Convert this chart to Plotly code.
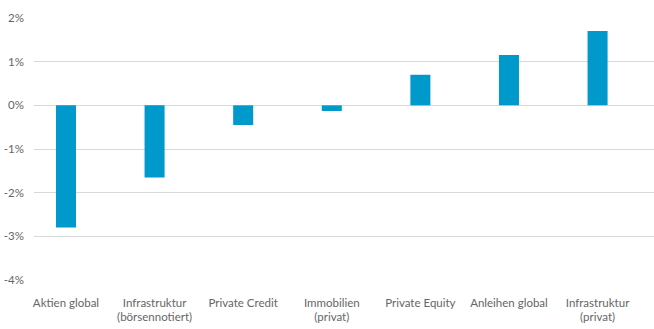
import plotly.graph_objects as go

categories = [
    "Aktien global",
    "Infrastruktur<br>(börsennotiert)",
    "Private Credit",
    "Immobilien<br>(privat)",
    "Private Equity",
    "Anleihen global",
    "Infrastruktur<br>(privat)",
]
values = [-2.8, -1.65, -0.45, -0.13, 0.7, 1.15, 1.7]
y_ticks = [-4, -3, -2, -1, 0, 1, 2]
y_tick_labels = [f"{v}%" for v in y_ticks]

fig = go.Figure(
    go.Bar(
        x=list(range(len(categories))),
        y=values,
        width=0.226,
        marker=dict(color="#0099CC", line=dict(width=0)),
        hoverinfo="skip",
    )
)

fig.update_layout(
    width=654,
    height=329,
    margin=dict(l=34, r=0, t=18, b=49),
    paper_bgcolor="white",
    plot_bgcolor="white",
    showlegend=False,
    font=dict(family="Lato, Open Sans, sans-serif", size=11.5, color="#666666"),
    xaxis=dict(
        range=[-0.361, 6.637],
        tickmode="array",
        tickvals=list(range(len(categories))),
        ticktext=categories,
        showgrid=False,
        zeroline=False,
        showline=False,
        ticks="",
        ticklabelstandoff=14,
    ),
    yaxis=dict(
        range=[-4, 2],
        tickmode="array",
        tickvals=y_ticks,
        ticktext=y_tick_labels,
        showgrid=True,
        gridcolor="#D9D9D9",
        gridwidth=1,
        zeroline=True,
        zerolinecolor="#D9D9D9",
        zerolinewidth=1,
        showline=False,
        ticks="",
        ticklabelstandoff=9,
    ),
)

fig.write_html("out.html")
